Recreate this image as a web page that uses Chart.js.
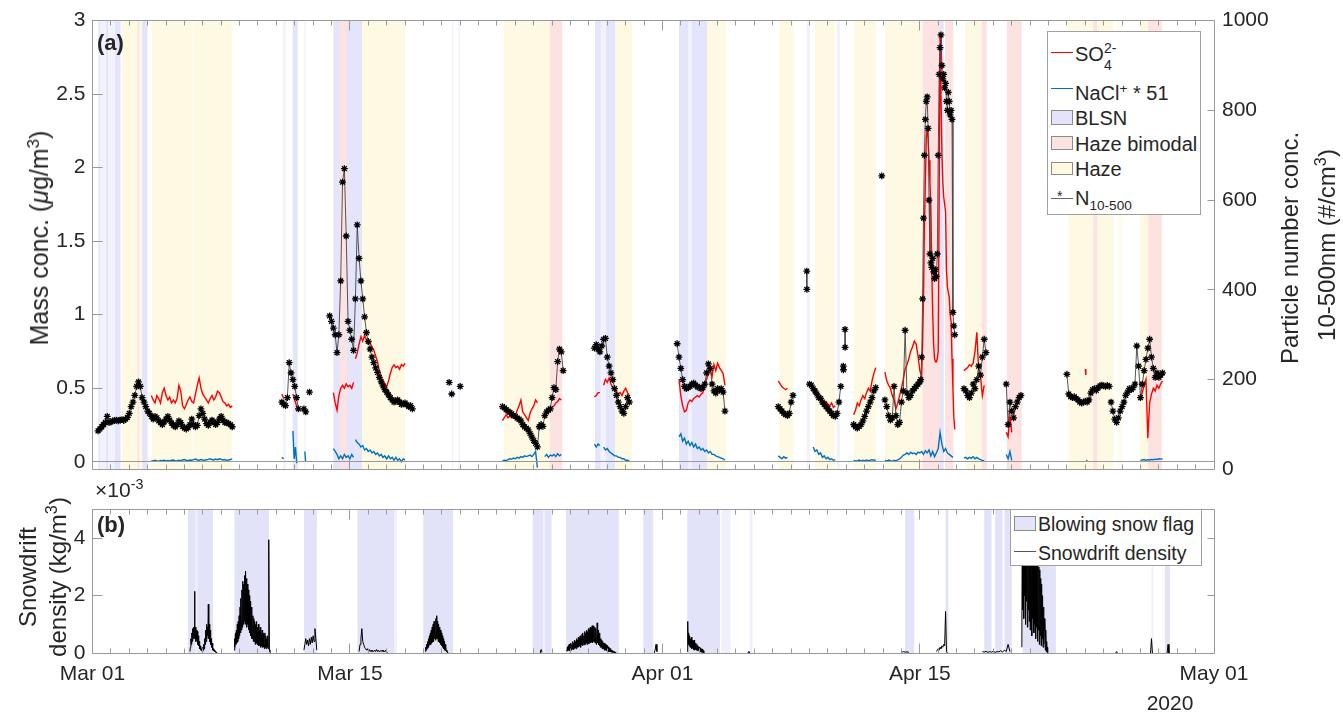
<!DOCTYPE html>
<html><head><meta charset="utf-8">
<script src="https://cdn.jsdelivr.net/npm/chart.js@4.4.1/dist/chart.umd.min.js"></script>
<style>
html,body{margin:0;padding:0;background:#fff;}
#wrap{position:relative;width:1343px;height:714px;overflow:hidden;font-family:"Liberation Sans",Arial,sans-serif;color:#262626;}
canvas{position:absolute;left:0;}
.t{position:absolute;white-space:nowrap;}
.rot{position:absolute;white-space:nowrap;transform:translate(-50%,-50%) rotate(-90deg);font-size:24px;line-height:24px;}
sup{font-size:0.68em;vertical-align:0.55em;line-height:0;}
sub{font-size:0.68em;vertical-align:-0.35em;line-height:0;}
.leg{position:absolute;background:#fff;border:1px solid #a0a0a0;box-sizing:border-box;}
.leg .tx{position:absolute;white-space:nowrap;font-size:20px;line-height:20px;}
.leg .ln{position:absolute;height:0;border-top:1.5px solid;}
.leg .pt{position:absolute;border:1px solid #8c8c8c;box-sizing:border-box;}
</style></head>
<body><div id="wrap">
<canvas id="cA" width="1343" height="490" style="top:0;width:1343px;height:490px"></canvas>
<canvas id="cB" width="1343" height="224" style="top:490px;width:1343px;height:224px"></canvas>

<div class="t" style="left:97px;top:32px;font-size:22px;line-height:22px;font-weight:bold;">(a)</div>
<div class="t" style="left:97px;top:514px;font-size:22px;line-height:22px;font-weight:bold;">(b)</div>
<div class="t" style="left:95px;top:479px;font-size:21px;line-height:21px;">&times;10<sup>-3</sup></div>
<div class="t" style="left:1170px;top:692px;font-size:21px;line-height:21px;transform:translateX(-50%);">2020</div>

<div class="rot" style="left:39px;top:238px;font-size:25px;">Mass conc. (<i>&mu;</i>g/m<sup>3</sup>)</div>
<div class="rot" style="left:1290px;top:248px;">Particle number conc.</div>
<div class="rot" style="left:1327px;top:245px;">10-500nm (#/cm<sup>3</sup>)</div>
<div class="rot" style="left:28px;top:577px;">Snowdrift</div>
<div class="rot" style="left:58px;top:577px;">density (kg/m<sup>3</sup>)</div>

<div class="leg" style="left:1047px;top:31px;width:154px;height:184px;">
  <div class="ln" style="left:3px;top:20px;width:22px;border-color:#ff0000;"></div>
  <div class="tx" style="left:27px;top:12px;">SO<span style="position:relative;display:inline-block;width:18px;height:20px;vertical-align:top;"><span style="position:absolute;left:0;top:-6px;font-size:14px;">2-</span><span style="position:absolute;left:0;top:11px;font-size:14px;">4</span></span></div>
  <div class="ln" style="left:3px;top:56px;width:22px;border-color:#0072bd;"></div>
  <div class="tx" style="left:27px;top:51px;">NaCl<sup>+</sup> * 51</div>
  <div class="pt" style="left:3px;top:78px;width:22px;height:15px;background:#e3e3fa;"></div>
  <div class="tx" style="left:27px;top:76px;">BLSN</div>
  <div class="pt" style="left:3px;top:104px;width:22px;height:14px;background:#fde2e2;"></div>
  <div class="tx" style="left:27px;top:102px;">Haze bimodal</div>
  <div class="pt" style="left:3px;top:130px;width:22px;height:13px;background:#fef8e0;"></div>
  <div class="tx" style="left:27px;top:127px;">Haze</div>
  <div class="ln" style="left:3px;top:166px;width:22px;border-top:1px solid #666;"></div>
  <div class="tx" style="left:9px;top:157px;font-size:14px;line-height:14px;">*</div>
  <div class="tx" style="left:27px;top:156px;">N<sub>10-500</sub></div>
</div>

<div class="leg" style="left:1010px;top:509px;width:192px;height:57px;">
  <div class="pt" style="left:3px;top:6px;width:22px;height:15px;background:#e3e3fa;"></div>
  <div class="tx" style="left:27px;top:4px;font-size:19.5px;">Blowing snow flag</div>
  <div class="ln" style="left:3px;top:41px;width:22px;border-top:1px solid #555;"></div>
  <div class="tx" style="left:27px;top:33px;font-size:19.5px;">Snowdrift density</div>
</div>
</div>

<script>
// ---------- tick labels ----------
const xTickVals = [0, 14, 31, 45, 61];            // days since Mar 01 2020
const xTickLabels = ['Mar 01', 'Mar 15', 'Apr 01', 'Apr 15', 'May 01'];
const massTicks = [0, 0.5, 1, 1.5, 2, 2.5, 3];
const numTicks = [0, 200, 400, 600, 800, 1000];
const snowTicks = [0, 2, 4];

// ---------- shaded periods [startDay, endDay] ----------
const blsnBands = [[0.32,0.4],[0.73,0.85],[1.22,1.53],[2.7,3.0],[10.89,11.16],[13.1,13.46],[13.84,14.66],[27.33,27.64],[27.93,28.42],[31.9,32.4],[32.6,33.43],[46.1,46.3]];
const blsnFaint = [[0.4,0.73],[0.85,1.22],[10.36,10.52],[11.52,11.6],[19.55,19.62],[19.9,20.0],[27.64,27.93],[32.4,32.6],[38.85,39.03],[40.48,40.66]];
const bimodalBands = [[2.45,2.55],[13.46,13.84],[24.88,25.55],[45.15,46.1],[46.37,46.82],[48.37,48.64],[49.73,50.54],[54.43,54.65],[57.42,58.16]];
const hazeBands = [[1.59,2.45],[2.55,2.68],[3.22,5.4],[5.5,7.57],[14.66,17.0],[22.38,24.88],[28.42,29.35],[33.43,34.45],[37.36,38.12],[39.3,40.4],[41.42,42.62],[43.1,44.19],[44.19,45.15],[47.46,48.37],[53.08,54.43],[54.65,55.52],[56.97,57.42]];
const hazeFaint = [[5.4,5.5],[55.7,56.07]];
const snowFlagBands = [[5.2,5.6],[5.7,6.55],[7.72,9.6],[11.5,12.2],[14.41,16.4],[17.99,19.61],[23.94,24.5],[24.6,24.97],[25.75,28.63],[29.96,30.5],[32.35,34.13],[44.2,44.7],[46.4,46.55],[48.5,48.9],[49.1,49.5],[49.6,50.0],[50.6,52.4],[58.33,58.6]];
const snowFlagFaint = [[5.6,5.7],[16.4,16.56],[24.5,24.6],[34.2,34.7],[35.75,35.9],[57.6,57.7]];

// ---------- series: [startDay, values, step(default 0.1), joinNext] ----------
const STEP = 0.1;
// N 10-500 (#/cm3)
const nSegs = [
 [0.3,[86,90,95,100,105,118,104,106,108,109, 110,108,110,111,109,112,116,125,140,150, 165,185,195,185,160,150,140,130,125,118, 112,118,115,108,104,100,106,112,118,110, 103,98,95,100,108,104,96,92,90,93, 100,112,100,95,98,120,135,125,112,102, 98,105,110,106,100,104,112,118,110,104, 105,102,100,95]],
 [10.3,[150,145,142,160,238,215,200,185,160,135]],
 [11.5,[135,128]],
 [11.8,[172]],
 [12.9,[342,330,315,300,260,300,420,640,670,520, 330,310,290,265,380,545,470,420,380,340, 305,285,268,250,238,226,216,205,195,186, 178,172,166,160,155,150,152,155,150,145, 146,148,144,140,142,135]],
 [19.4,[194]],[19.54,[168]],[20.0,[185]],
 [22.3,[140,137,133,130,127,124,120,118,114,112, 108,100,95,92,88,80,72,64,58,50, 95,100,96,120,128,132,135,160,182,178, 240,268,262,220]],
 [27.3,[270,278,268,262,275,290,292,250,230,215, 200,180,165,150,140,130,125,140,160,150]],
 [31.8,[280,250,225,200,185,180,182,185,190,192, 188,184,183,180,182,190,215,235,225,190, 175,170,180,176,180,172,130]],
 [37.3,[140,135,130,125,122,120,125,150,165]],
 [38.85,[442,401],0.005],
 [39.0,[190,188,180,175,168,160,158,150,145,140, 135,130,125,120,118,125,150,185]],
 [40.84,[230,222],0.005],
 [40.93,[312,272],0.005],
 [41.4,[100,95,92,96,100,108,118,130,140,150, 160,175,182]],
 [42.93,[654]],
 [43.1,[155,140,120,110,115,185,120,100,105,150, 175,310,170,160,165,175,180,185,190,195],0.1,true],
 [45.05,[200,250,380,560,700,780,820,830,760,600, 480,460,450,470,440,425,445,430,480,700, 880,940,968,900,870,880,850,860,820,800, 840,820,790,800,780,350,320,300],0.05],
 [47.4,[180,175,165,160,170,190,180,200,230,210, 250,290,260]],
 [49.7,[190,100,150,130,115,140,150,160,165]],
 [53.0,[212,168,162,160,162,158,155,150,148,150, 152,150,155,170,178,180,176,182,186,188, 186,185,187,185]],
 [55.4,[150,130,112,105,115,130,140,150,165,172, 180,178,182,190,275,230,160,190,220,245, 270,290,250,225,205,215,205,210,215]]
];
// SO4 2- (ug/m3)
const so4Segs = [
 [3.2,[0.45,0.42,0.40,0.45,0.43,0.40,0.47,0.50,0.45,0.42, 0.44,0.40,0.42,0.40,0.43,0.52,0.48,0.38,0.36,0.39, 0.42,0.44,0.41,0.40,0.46,0.52,0.57,0.50,0.46,0.44, 0.42,0.40,0.43,0.45,0.42,0.44,0.48,0.47,0.44,0.41, 0.40,0.38,0.39,0.37,0.38]],
 [10.3,[0.46,0.43]],
 [10.9,[0.46,0.42,0.38,0.36]],
 [13.1,[0.47,0.40,0.35,0.45,0.50,0.52,0.50,0.53,0.51,0.52, 0.50,0.54]],
 [14.3,[0.70,0.74,0.80,0.85,0.82,0.86,0.83,0.80,0.81,0.78, 0.76,0.72,0.68,0.62,0.58,0.55,0.53,0.51,0.55,0.60, 0.64,0.66,0.64,0.65,0.63,0.66,0.65,0.67]],
 [22.3,[0.28,0.30,0.32,0.30,0.31,0.30,0.33,0.31,0.35,0.38, 0.42,0.34,0.32,0.30,0.28,0.33,0.36,0.38,0.42,0.40]],
 [24.6,[0.33,0.34,0.36,0.35,0.37,0.38,0.40,0.41,0.43,0.42]],
 [27.3,[0.44,0.45,0.47,0.47]],
 [27.8,[0.52,0.56,0.54,0.57,0.53,0.50,0.49,0.48,0.46,0.47, 0.45,0.48,0.50,0.47,0.45]],
 [31.9,[0.56,0.45,0.38,0.34,0.35,0.40,0.42,0.41,0.43,0.44, 0.45,0.44,0.46,0.47,0.52,0.56,0.60,0.63,0.58,0.66, 0.62,0.67,0.64,0.62,0.60,0.52]],
 [37.3,[0.55,0.53,0.51,0.50,0.49,0.50]],
 [39.2,[0.47,0.46,0.44,0.43,0.45,0.42,0.40,0.41,0.39,0.38, 0.40,0.37,0.38]],
 [41.4,[0.32,0.35,0.40,0.38,0.42,0.45,0.43,0.47,0.50,0.48, 0.55,0.60,0.64]],
 [43.1,[0.61,0.55,0.52,0.50,0.45,0.42,0.36,0.40,0.45,0.50, 0.56,0.63,0.66,0.70,0.75,0.78,0.82,0.80,0.72,0.62],0.1,true],
 [45.05,[0.60,0.58,0.80,1.13,1.60,1.90,2.20,2.27,2.20,2.05, 1.90,1.73,1.30,1.01,0.80,0.70,0.68,0.68,0.70,0.75, 1.80,2.90,2.50,2.10,1.90,1.80,1.75,1.70,1.30,1.19, 1.15,1.12,1.00,0.95,0.70,0.50,0.30,0.22],0.05],
 [47.4,[0.62,0.63,0.64,0.66,0.65,0.67,0.75,0.88,0.62,0.58, 0.45,0.52]],
 [49.7,[0.20,0.17,0.31,0.20]],
 [54.0,[0.63,0.59],0.03],
 [56.9,[0.43,0.42,0.47,0.52,0.56,0.16,0.40,0.46,0.50,0.48, 0.52,0.50,0.53,0.55]]
];
// NaCl+ * 51
const naclSegs = [
 [3.2,[0.008,0.005,0.01,0.006,0.004,0.009,0.007,0.01,0.006,0.008, 0.005,0.01,0.012,0.008,0.006,0.01,0.007,0.012,0.015,0.01, 0.008,0.012,0.01,0.014,0.018,0.012,0.01,0.015,0.012,0.01, 0.014,0.016,0.02,0.015,0.012,0.018,0.014,0.02,0.016,0.012, 0.015,0.01,0.012,0.015,0.02]],
 [10.3,[0.03,0.02]],
 [10.9,[0.21,0.02,0.10,-0.01],0.07],
 [11.55,[0.07,0.0],0.04],
 [13.1,[0.09,0.07,0.05,0.02,0.04,0.02,0.05,0.03,0.04,0.02, 0.05,0.03]],
 [14.3,[0.15,0.13,0.12,0.10,0.11,0.08,0.09,0.07,0.08,0.06, 0.07,0.05,0.06,0.04,0.05,0.03,0.04,0.02,0.04,0.02, 0.03,0.01,0.03,0.01,0.02,0.0,0.02,0.01]],
 [22.3,[0.005,0.01,0.008,0.015,0.02,0.018,0.025,0.02,0.03,0.025, 0.035,0.03,0.04,0.035,0.04,0.045,0.035,0.05,0.07,-0.04]],
 [24.6,[0.035,0.05,0.03,0.045,0.04,0.05,0.035,0.055,0.04,0.05]],
 [27.3,[0.12,0.10,0.12,0.11]],
 [27.8,[0.10,0.08,0.09,0.07,0.06,0.05,0.04,0.04,0.03,0.03, 0.02,0.02,0.01,0.01,0.005]],
 [31.9,[0.17,0.19,0.14,0.16,0.12,0.14,0.11,0.13,0.10,0.12, 0.09,0.10,0.08,0.09,0.07,0.08,0.06,0.07,0.05,0.05, 0.04,0.035,0.03,0.025,0.02,0.01]],
 [37.3,[0.04,0.03,0.02,0.035,0.025,0.03]],
 [39.2,[0.10,0.07,0.08,0.05,0.06,0.03,0.04,0.02,0.03,0.015, 0.02,0.01,0.015]],
 [41.4,[0.01,0.005,0.008,0.012,0.004,0.01,0.006,0.012,0.008,0.01, 0.014,0.01,0.012]],
 [43.1,[0.01,0.005,0.012,0.008,0.003,0.01,0.006,0.012,0.02,0.03, 0.045,0.05,0.06,0.05,0.065,0.055,0.06,0.05,0.065,0.06, 0.07,0.05,0.075,0.06,0.08,0.04,0.07,0.035,0.06,0.09, 0.20,0.12,0.07,0.09,0.06,0.05,0.04,0.03]],
 [47.4,[0.025,0.03,0.02,0.03,0.025,0.035,0.02,0.03,0.02,0.015, 0.01,0.005]],
 [49.7,[0.05,0.02,0.07,0.01]],
 [54.05,[0.01,0.012],0.03],
 [57.0,[0.01,0.012,0.015,0.01,0.014,0.012,0.016,0.014,0.018,0.015, 0.02,0.018,0.02]]
];
// Snowdrift density (x 1e-3 kg/m3)
const snowSegs = [
 [5.3,[0.05,0.2,0.5,0.3,0.7,0.4,0.85,0.5,0.9,0.6, 2.15,0.5,0.9,0.4,0.8,0.5,0.75,0.3,0.6,0.25, 0.4,0.15,0.25,0.1,0.2,0.08,0.15,0.05,0.2,0.1, 0.3,0.15,0.5,0.3,0.8,0.4,1.0,0.5,0.9,0.6, 1.7,0.5,1.0,0.4,0.8,0.3,0.5,0.2,0.35,0.1, 0.2,0.08,0.15,0.05,0.1,0.03,0.06,0.02,0.0],0.025],
 [7.7,[0.1,0.5,0.2,0.7,0.3,0.8,0.35,1.0,0.4,1.1, 0.5,1.3,0.6,1.6,0.7,1.9,0.8,2.2,0.9,2.5, 1.0,2.4,1.1,2.7,1.0,2.85,1.2,2.6,0.9,2.4, 1.0,2.2,0.8,2.0,0.7,1.8,0.6,1.6,0.5,1.4, 0.5,1.3,0.4,1.2,0.4,1.1,0.3,1.0,0.35,1.1, 0.3,0.9,0.3,1.0,0.25,0.8,0.3,0.9,0.2,0.7, 0.25,0.8,0.2,0.7,0.2,0.6,0.15,0.7,0.2,0.6, 0.15,0.5,0.2,0.6,0.15,0.4,3.95,0.1,0.05,0.0],0.025],
 [11.5,[0.1,0.3,0.5,0.3,0.45,0.25,0.5,0.3,0.55,0.35, 0.6,0.4,0.85,0.5,0.1],0.05],
 [14.5,[0.05,0.3,0.5,0.85,0.4,0.3,0.2,0.15,0.1,0.15, 0.08,0.12,0.05,0.1,0.05,0.08,0.05,0.1,0.05,0.12, 0.05,0.1,0.04,0.08,0.05,0.1,0.05,0.08,0.04,0.1, 0.03,0.02],0.05],
 [18.1,[0.05,0.2,0.1,0.3,0.15,0.4,0.2,0.5,0.25,0.6, 0.3,0.7,0.3,0.8,0.35,0.9,0.4,1.0,0.4,1.1, 0.5,1.0,0.45,1.2,0.5,1.3,0.5,1.1,0.4,1.0, 0.4,0.9,0.35,0.8,0.3,0.7,0.25,0.6,0.2,0.5, 0.15,0.4,0.1,0.3,0.08,0.2,0.05,0.1,0.02,0.0],0.025],
 [24.35,[0,0.12,0.02],0.05],
 [25.8,[0.05,0.2,0.08,0.25,0.1,0.3,0.08,0.22,0.12,0.35, 0.1,0.3,0.15,0.4,0.12,0.35,0.15,0.45,0.18,0.4, 0.15,0.5,0.2,0.45,0.2, 0.55,0.22,0.5,0.25,0.6,0.2,0.55,0.28,0.65,0.25, 0.7,0.3,0.6,0.28,0.75,0.3,0.7,0.35,0.8,0.3, 0.75,0.35,0.85,0.32,0.8,0.38,0.9,0.35,0.85,0.4, 0.95,0.35,0.9,0.4,0.95,0.38,0.9,0.35,0.85,0.3, 0.4,1.05,0.35,0.8,0.3,0.7,0.25,0.6,0.2,0.5, 0.2,0.45,0.15,0.4,0.15,0.35,0.12,0.35,0.1,0.3, 0.1,0.28,0.08,0.25,0.06,0.2,0.05,0.18,0.04,0.15, 0.03,0.12,0.03,0.1,0.02,0.08,0.02,0.06,0.01,0.05, 0.0,0.03,0.0],0.025],
 [30.55,[0.0,0.1,0.3,0.05],0.05],
 [32.35,[0.05,1.1,0.3,0.7,0.25,0.6,0.2,0.5,0.2,0.55, 0.15,0.45,0.2,0.4,0.12,0.45,0.1,0.35,0.12,0.3, 0.1,0.3,0.08,0.25,0.1,0.22,0.06,0.2,0.05,0.18, 0.04,0.15,0.03,0.12,0.02,0.08,0.0],0.025],
 [35.65,[0,0.06,0],0.05],
 [44.0,[0.02,0.05,0.03,0.04,0.02]],
 [45.9,[0.05,0.1,0.15,0.1,0.2,0.15,0.25,0.2,0.3,0.25, 1.45,0.05,0.0],0.05],
 [48.4,[0.05,0.03,0.06,0.02,0.05,0.03,0.06,0.02,0.05,0.04, 0.08,0.03,0.1,0.05,0.3,0.05]],
 [50.55,[0.2,6.0,1.5,5.5,1.2,4.8,2.0,5.2,1.0,4.5, 1.8,4.9,0.9,4.2,1.5,4.6,1.1,3.9,0.8,4.4, 1.4,3.8,0.6,4.1,1.2,3.6,0.7,3.9,1.0,3.5, 0.5,3.7,0.9,3.2,0.4,3.4,0.8,3.0,0.3,2.9, 0.6,2.6,0.25,2.4,0.5,2.0,0.2,1.6,0.3,1.2, 0.8,0.1,0.8,0.05,0.4,0.02,0.2,0.0],0.025],
 [55.65,[0,0.05,0],0.05],
 [57.55,[0,0.5,0],0.05],
 [58.45,[0,0.3,0],0.05]
];

// ---------- helpers ----------
function series(segs) {
  const out = [];
  segs.forEach(seg => {
    const t0 = seg[0], vals = seg[1], s = seg[2] || STEP, join = seg[3];
    vals.forEach((v, i) => out.push({x: t0 + i * s, y: v}));
    if (!join) out.push({x: t0 + (vals.length - 0.5) * s, y: null});
  });
  return out;
}
const AX = '#9a9a9a';
const FONT = {family: "'Liberation Sans', Arial, sans-serif", size: 21};
const TXT = '#262626';
const crisp = v => Math.round(v - 0.5) + 0.5;

function bandPlugin(layers) {
  return { id: 'bands', beforeDatasetsDraw(chart) {
    const {ctx, chartArea: a} = chart, x = chart.scales.x;
    ctx.save(); ctx.beginPath(); ctx.rect(a.left, a.top, a.width, a.height); ctx.clip();
    layers.forEach(([list, color]) => {
      ctx.fillStyle = color;
      list.forEach(([s, e]) => {
        const x0 = x.getPixelForValue(s), x1 = x.getPixelForValue(e);
        ctx.fillRect(x0, a.top, x1 - x0, a.height);
      });
    });
    ctx.restore();
  }};
}
function axesPlugin(cfg) {
  return { id: 'maxes', afterDatasetsDraw(chart) {
    const {ctx, chartArea: a} = chart, x = chart.scales.x;
    const L = crisp(a.left), R = crisp(a.right), T = crisp(a.top), B = crisp(a.bottom);
    ctx.save(); ctx.strokeStyle = AX; ctx.lineWidth = 1; ctx.beginPath();
    if (cfg.zeroLine) { const z = crisp(chart.scales.y.getPixelForValue(0)); ctx.moveTo(L, z); ctx.lineTo(R, z); }
    for (let d = 1; d < 61; d++) {
      const px = crisp(x.getPixelForValue(d));
      const len = xTickVals.includes(d) ? 10 : 5;
      ctx.moveTo(px, T); ctx.lineTo(px, T + len);
      ctx.moveTo(px, B); ctx.lineTo(px, B - len);
    }
    cfg.left.ticks.forEach(v => { const py = crisp(chart.scales[cfg.left.id].getPixelForValue(v)); ctx.moveTo(L, py); ctx.lineTo(L + 10, py); });
    cfg.right.ticks.forEach(v => { const py = crisp(chart.scales[cfg.right.id].getPixelForValue(v)); ctx.moveTo(R, py); ctx.lineTo(R - 7, py); });
    ctx.rect(L, T, R - L, B - T);
    ctx.stroke(); ctx.restore();
  }};
}
function fixTicks(vals) { return s => { s.ticks = vals.map(v => ({value: v})); }; }
const hiddenGrid = {display: false, drawTicks: false};

// ---------- chart (a) ----------
new Chart(document.getElementById('cA'), {
  type: 'line',
  data: { datasets: [
    {label: 'N10-500', data: series(nSegs), yAxisID: 'y2', order: 0, borderColor: '#444', borderWidth: 0.9,
     pointStyle: 'star', pointRadius: 3.4, pointBorderColor: '#000', pointBackgroundColor: '#000', pointBorderWidth: 1.3, tension: 0},
    {label: 'SO4', data: series(so4Segs), yAxisID: 'y', order: 1, borderColor: '#ff0000', borderWidth: 1.4, pointRadius: 0, tension: 0},
    {label: 'NaCl', data: series(naclSegs), yAxisID: 'y', order: 2, borderColor: '#0072bd', borderWidth: 1.4, pointRadius: 0, tension: 0}
  ]},
  options: {
    responsive: false, animation: false, events: [],
    layout: {autoPadding: false, padding: {top: 19.5, left: 0, right: 0, bottom: 19}},
    plugins: {legend: {display: false}, tooltip: {enabled: false}},
    scales: {
      x: {type: 'linear', min: 0, max: 61, display: false},
      y: {type: 'linear', position: 'left', min: -0.052, max: 3, afterBuildTicks: fixTicks(massTicks),
          afterFit: s => { s.width = 92.5; }, grid: hiddenGrid, border: {display: false},
          ticks: {font: FONT, color: TXT, padding: 7, callback: v => String(v)}},
      y2: {type: 'linear', position: 'right', min: 0, max: 1000, afterBuildTicks: fixTicks(numTicks),
          afterFit: s => { s.width = 129; }, grid: hiddenGrid, border: {display: false},
          ticks: {font: FONT, color: TXT, padding: 8, callback: v => String(v)}}
    }
  },
  plugins: [
    bandPlugin([[hazeFaint, '#fefcf0'], [hazeBands, '#fef9e2'], [bimodalBands, '#fde2e2'], [blsnFaint, '#f2f2fd'], [blsnBands, '#e4e4fa']]),
    axesPlugin({zeroLine: true, left: {id: 'y', ticks: massTicks}, right: {id: 'y2', ticks: numTicks}})
  ]
});

// ---------- chart (b) ----------
new Chart(document.getElementById('cB'), {
  type: 'line',
  data: { datasets: [
    {label: 'Snowdrift density', data: series(snowSegs), borderColor: '#000', borderWidth: 1, pointRadius: 0, tension: 0}
  ]},
  options: {
    responsive: false, animation: false, events: [],
    layout: {autoPadding: false, padding: {top: 12, left: 0, right: 129, bottom: 0}},
    plugins: {legend: {display: false}, tooltip: {enabled: false}},
    scales: {
      x: {type: 'linear', min: 0, max: 61, afterBuildTicks: fixTicks(xTickVals),
          afterFit: s => { s.height = 61; }, grid: hiddenGrid, border: {display: false},
          ticks: {font: FONT, color: TXT, padding: 9, autoSkip: false, maxRotation: 0,
                  callback: v => xTickLabels[xTickVals.indexOf(v)]}},
      y: {type: 'linear', position: 'left', min: 0, max: 5, afterBuildTicks: fixTicks(snowTicks),
          afterFit: s => { s.width = 92.5; }, grid: hiddenGrid, border: {display: false},
          ticks: {font: FONT, color: TXT, padding: 7, callback: v => String(v)}}
    }
  },
  plugins: [
    bandPlugin([[snowFlagFaint, '#f0f0fc'], [snowFlagBands, '#e2e2f9']]),
    axesPlugin({zeroLine: false, left: {id: 'y', ticks: snowTicks}, right: {id: 'y', ticks: [2, 4]}})
  ]
});
</script>
</body></html>
